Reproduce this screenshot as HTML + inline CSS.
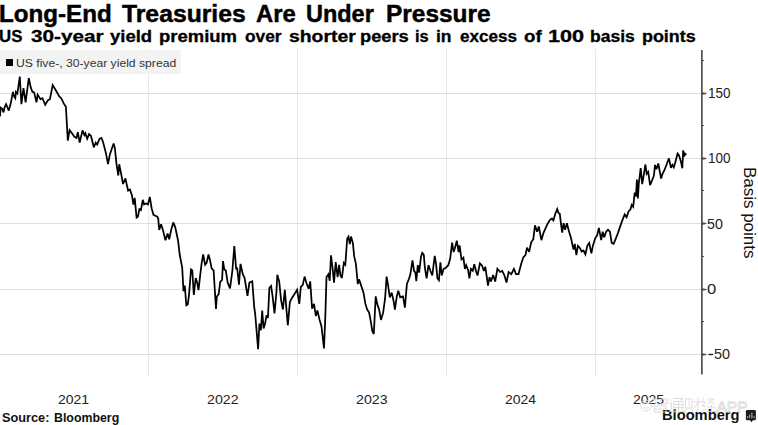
<!DOCTYPE html>
<html><head><meta charset="utf-8">
<style>
html,body{margin:0;padding:0;background:#fff;width:758px;height:425px;overflow:hidden;position:relative;font-family:"Liberation Sans",sans-serif;}
.w{position:absolute;transform-origin:0 0;white-space:nowrap;font-family:"Liberation Sans",sans-serif;}
#legend{position:absolute;left:0;top:50px;width:181px;height:24px;background:#f3f3f3;}
#legend .sq{position:absolute;left:5.8px;top:9px;width:6.8px;height:7px;background:#000;}
svg{position:absolute;left:0;top:0;}
</style></head><body>
<svg width="758" height="425" viewBox="0 0 758 425">
<g stroke="#e8e8e8" stroke-width="1" fill="none"><line x1="148.5" y1="49" x2="148.5" y2="375.5"/><line x1="297.5" y1="49" x2="297.5" y2="375.5"/><line x1="446.5" y1="49" x2="446.5" y2="375.5"/><line x1="595.5" y1="49" x2="595.5" y2="375.5"/></g><g stroke="#dedede" stroke-width="1" fill="none"><line x1="0" y1="93.5" x2="701" y2="93.5"/><line x1="0" y1="158.5" x2="701" y2="158.5"/><line x1="0" y1="223.5" x2="701" y2="223.5"/><line x1="0" y1="289.5" x2="701" y2="289.5"/><line x1="0" y1="354.5" x2="701" y2="354.5"/></g>
<g fill="#505050"><rect x="701" y="50" width="1.7" height="324.5"/><path d="M701 92.0 L706.5 93.1 L706.5 93.9 L701 95.0z"/><path d="M701 157.0 L706.5 158.1 L706.5 158.9 L701 160.0z"/><path d="M701 222.0 L706.5 223.1 L706.5 223.9 L701 225.0z"/><path d="M701 288.0 L706.5 289.1 L706.5 289.9 L701 291.0z"/><path d="M701 353.0 L706.5 354.1 L706.5 354.9 L701 356.0z"/><rect x="701" y="60.0" width="3" height="1"/><rect x="701" y="125.0" width="3" height="1"/><rect x="701" y="190.0" width="3" height="1"/><rect x="701" y="256.0" width="3" height="1"/><rect x="701" y="321.0" width="3" height="1"/></g>
<rect x="708.4" y="353.8" width="4.8" height="1.4" fill="#222"/>
<polyline points="0,116.5 0.6,107.6 2.1,108.8 3.5,112.4 4.5,107.6 6.1,104.1 7.1,106.5 8.8,110.6 10.6,104.1 12.9,91.8 14.1,96.5 15.3,98.2 15.9,91.8 17.4,93.5 19.8,76.5 21.4,104.1 23.5,88.2 25.6,102.4 27.3,89.4 28.8,78.2 30.8,87.6 32.4,91.8 34.1,92.4 36.5,102.4 37.6,94.7 40.5,99.2 42.4,98.2 45.2,104.8 48,100.1 49.9,99.2 52.7,85.1 55.5,89.8 59.3,96.4 61.2,98.2 64,103.9 65.9,106.7 67.8,140.6 69.6,130.2 72.5,134 74.4,136.8 76.5,137.9 77.8,132.2 79.7,142.6 82.5,130.4 84.4,135.1 85.4,133.2 87.2,138.8 89.1,134.1 91,136 93.8,147.3 95.7,142.6 97.2,144.5 99.5,138.8 101.4,137.9 102.9,141.6 106.1,153.9 108,164.2 109.8,154.8 113.6,143.5 114.9,148.2 116.4,163.3 118.3,175.5 119.2,164.2 121.1,173.6 123,184 125.4,178.4 128.1,190.6 130,189.6 131.9,195.1 133.4,204.5 134.7,197.9 136.6,217.6 137.9,216.7 139.4,209.2 140.9,210.1 142.8,199.8 144.1,204.5 146,203.5 147.9,204.5 149.8,196.9 151.6,208.2 153.5,214.8 155.4,215.8 157.3,216.7 158.2,218.6 159.2,229.9 161.1,224.2 162.9,229.9 165.4,240.2 167.6,233.6 169.2,239.3 171.4,228.9 173.3,222.4 175.2,227.1 178,240.2 179.7,254.5 182.2,267.6 183.5,291.2 184.8,285.5 186.3,305.3 187.8,304.4 189.1,294 191,269.5 192.3,270.5 193.8,295 195.7,278 197.2,282.7 198.5,290.2 200.4,273.3 201.7,262.9 203.2,254.5 205.1,264.8 206.6,262.9 208.5,254.5 209.8,259.2 211.7,268.6 213.6,270.5 216,309 216.8,296.8 218.7,294 220.2,281.8 222.1,279.9 223,261.1 224.3,269.5 225.8,270.5 227.7,282.7 230,288.4 232.4,270.5 234.3,246 236.2,269.5 237.1,267.6 239,284.6 240.5,263.9 242.8,274.2 244.6,278 247.5,295.9 249.4,282.7 252.3,281.3 254.1,305.8 255.3,315.2 258.1,349.1 259.4,323.6 260.9,330.2 262.2,310.5 263.6,328.4 265.1,323.6 266.6,315.2 267.9,318 269.4,287.9 271.1,286 272.6,296.4 274.5,313.3 276.4,292.6 277.3,274.7 279.2,281.3 281.1,300.1 282.9,309.5 284.8,289.8 286.7,312.4 287.8,325.3 289.9,302 291.8,298.2 294.2,294.5 297.1,289.8 299.3,303.9 300.8,286.9 302.7,285.1 304.6,276.6 306.5,283.2 308.7,288.8 310.2,281.3 312.1,308.6 314,303.9 315.9,316.1 317.4,310.5 319.6,319.9 321.5,326.5 324,348.5 325.3,317.1 326.5,277.1 328.4,274.2 329.7,280.8 331,255.4 332.5,267.6 334,282.7 335.7,262 337.6,277.1 339.1,264.8 340.4,275.2 341.9,278 343.8,262.9 345.3,264.8 347.2,238.5 348.5,236.6 349.8,244.1 351,236.6 352.9,243.2 354.2,256.4 355.9,263.9 357.8,284.1 359.1,279.4 361.6,286.9 363.5,292.6 365.4,303.9 367.2,309.5 369.1,312.4 371,322.7 372.3,331.2 373.8,334 375.7,296.4 377.2,303.9 379.1,309.5 381,319.9 383.2,312.4 385.1,298.2 386.6,276.6 387.9,284.1 389.8,297.3 391.7,292.6 393.6,301.1 394.9,309.5 396.8,296.4 398.3,290.7 400.2,297.3 403,296.4 404.9,307.6 406.9,284 408.8,279.3 410.3,274.6 412.5,260.5 414,270.8 415.4,272.7 416.3,281.2 417.8,265.2 419.1,272.7 421,256.7 422.3,252.9 423.8,254.8 424.8,267.1 426.6,278.4 428.5,265.2 430.4,270.8 432.3,275.5 434.7,255.8 436.1,264.2 437.4,278.4 438.9,280.2 440.4,262.4 441.7,275.5 443.6,268.9 445.5,268 448.3,265.2 450.2,258.6 452.1,242.6 453.6,252 454.9,248.2 456.8,240.7 458.6,252 459.6,245.4 461.5,259.5 463.4,257.6 464.9,268.9 466.2,265.2 468.1,269.9 469.4,278.4 470.9,268.9 472.8,270.8 474.3,264.2 476.2,271.8 477.5,275.5 479.9,263.3 482.1,265.6 483.8,270.9 485.3,266.7 488,285.7 489.5,277.2 491,281.5 493.1,275.1 495.2,281.5 497.4,268.8 500.1,272 502.2,270.9 504.3,275.1 506.5,282.5 508.6,272 511.3,274.1 513.9,268.8 516,274.1 518.5,274.1 521.3,263.5 523.4,257.1 525.5,255 527,247.6 529.1,251.9 531.2,242.3 533.3,239.2 535,225.4 537.1,231.7 538.8,226.5 541.4,240.2 543.5,232.8 547.3,224.3 549.8,220.1 551.9,218.5 553.4,220.4 555.3,213.8 557.2,209.1 558.5,212.9 559.8,213.8 560.9,223.2 562.2,232.6 563.6,223.2 565.1,229.8 566.9,223.2 568.8,230.8 571.1,238.3 572.6,245.8 573.5,249.6 574.8,243.9 576.4,255.2 577.9,245.8 579.7,247.7 581.6,251.5 583.5,250.5 585.4,254.3 587.3,245.8 589.2,243 591.4,253.4 592.9,245.8 595.2,238.3 597.1,235.5 598.9,227.9 601.2,240.2 602.7,231.7 604.2,237.4 606.1,231.7 608,229.8 609.9,231.7 611.7,243 613.6,243.9 615.9,238.3 618.1,232.6 620.6,225.1 622.8,219.1 624.7,214.4 626.6,217.2 628.5,211.5 630.4,209.6 631.7,204.9 633.2,206.8 634.7,192.7 636,196.5 636.9,179.5 637.9,198.4 638.8,183.3 640.7,168.2 642.2,184.2 643.5,176.7 645.4,164.5 646.7,173.9 648.2,172 650.1,185.2 652,180.5 653.9,175.8 655,164.9 656.4,169.2 658.3,163.5 659.7,171.1 661.1,178.6 662.5,173.9 664.4,170.1 666.8,164 668.9,158.4 671,167.8 672.4,164.9 673.8,167.3 675.2,162.6 677.6,153.6 679,155.5 680.9,161.6 682.3,168.2 683.2,150.4 684.2,156.5 685.1,153.6 686.5,154.6" fill="none" stroke="#000" stroke-width="1.75" stroke-linejoin="miter" stroke-miterlimit="3"/>
<text transform="translate(744,166.9) rotate(90) scale(1.062,1)" font-family="Liberation Sans" font-size="16" fill="#111">Basis points</text>
<rect x="745.9" y="410" width="10" height="10.3" rx="1.3" fill="#1a1a1a"/><path d="M750 420 L753 420 L751.5 422.2z" fill="#1a1a1a"/>
<g fill="#9a9a9a"><rect x="747" y="416" width="1.1" height="2.3"/><rect x="749" y="414.6" width="1.2" height="3.7"/><rect x="751.2" y="412.6" width="1.3" height="5.7"/><rect x="753.5" y="416" width="1.1" height="2.3"/></g>
</svg>
<div id="legend"><div class="sq"></div></div>
<div class="w" style="left:-0.55px;top:1.00px;transform:scaleX(1.0505);font-size:23px;font-weight:bold;-webkit-text-stroke:0.45px #000;color:#000">Long-End</div>
<div class="w" style="left:122.40px;top:1.00px;transform:scaleX(1.0754);font-size:23px;font-weight:bold;-webkit-text-stroke:0.45px #000;color:#000">Treasuries</div>
<div class="w" style="left:255.70px;top:1.00px;transform:scaleX(1.0342);font-size:23px;font-weight:bold;-webkit-text-stroke:0.45px #000;color:#000">Are</div>
<div class="w" style="left:306.18px;top:1.00px;transform:scaleX(1.0197);font-size:23px;font-weight:bold;-webkit-text-stroke:0.45px #000;color:#000">Under</div>
<div class="w" style="left:385.94px;top:1.00px;transform:scaleX(1.0619);font-size:23px;font-weight:bold;-webkit-text-stroke:0.45px #000;color:#000">Pressure</div>
<div class="w" style="left:-0.55px;top:27.60px;transform:scaleX(1.0524);font-size:16px;font-weight:bold;-webkit-text-stroke:0.3px #000;color:#000">US</div>
<div class="w" style="left:30.90px;top:27.60px;transform:scaleX(1.2929);font-size:16px;font-weight:bold;-webkit-text-stroke:0.3px #000;color:#000">30-year</div>
<div class="w" style="left:110.40px;top:27.60px;transform:scaleX(1.1556);font-size:16px;font-weight:bold;-webkit-text-stroke:0.3px #000;color:#000">yield</div>
<div class="w" style="left:159.15px;top:27.60px;transform:scaleX(1.1545);font-size:16px;font-weight:bold;-webkit-text-stroke:0.3px #000;color:#000">premium</div>
<div class="w" style="left:244.80px;top:27.60px;transform:scaleX(1.0824);font-size:16px;font-weight:bold;-webkit-text-stroke:0.3px #000;color:#000">over</div>
<div class="w" style="left:288.79px;top:27.60px;transform:scaleX(1.2111);font-size:16px;font-weight:bold;-webkit-text-stroke:0.3px #000;color:#000">shorter</div>
<div class="w" style="left:359.76px;top:27.60px;transform:scaleX(1.1415);font-size:16px;font-weight:bold;-webkit-text-stroke:0.3px #000;color:#000">peers</div>
<div class="w" style="left:414.98px;top:27.60px;transform:scaleX(1.0250);font-size:16px;font-weight:bold;-webkit-text-stroke:0.3px #000;color:#000">is</div>
<div class="w" style="left:436.31px;top:27.60px;transform:scaleX(1.0923);font-size:16px;font-weight:bold;-webkit-text-stroke:0.3px #000;color:#000">in</div>
<div class="w" style="left:460.00px;top:27.60px;transform:scaleX(1.0660);font-size:16px;font-weight:bold;-webkit-text-stroke:0.3px #000;color:#000">excess</div>
<div class="w" style="left:523.80px;top:27.60px;transform:scaleX(1.1667);font-size:16px;font-weight:bold;-webkit-text-stroke:0.3px #000;color:#000">of</div>
<div class="w" style="left:547.55px;top:27.60px;transform:scaleX(1.3520);font-size:16px;font-weight:bold;-webkit-text-stroke:0.3px #000;color:#000">100</div>
<div class="w" style="left:590.40px;top:27.60px;transform:scaleX(1.0950);font-size:16px;font-weight:bold;-webkit-text-stroke:0.3px #000;color:#000">basis</div>
<div class="w" style="left:641.78px;top:27.60px;transform:scaleX(1.1191);font-size:16px;font-weight:bold;-webkit-text-stroke:0.3px #000;color:#000">points</div>
<div class="w" style="left:15.94px;top:57.00px;transform:scaleX(1.0573);font-size:11.5px;color:#333">US five-, 30-year yield spread</div>
<div class="w" style="left:1.94px;top:411.20px;transform:scaleX(1.0605);font-size:12px;font-weight:bold;color:#111">Source:</div>
<div class="w" style="left:54.17px;top:411.20px;transform:scaleX(1.0290);font-size:12px;font-weight:bold;color:#111">Bloomberg</div>
<div class="w" style="left:57.86px;top:392.00px;transform:scaleX(1.0357);font-size:13.5px;color:#222">2021</div>
<div class="w" style="left:206.85px;top:392.00px;transform:scaleX(1.0500);font-size:13.5px;color:#222">2022</div>
<div class="w" style="left:355.55px;top:392.00px;transform:scaleX(1.0500);font-size:13.5px;color:#222">2023</div>
<div class="w" style="left:504.57px;top:392.00px;transform:scaleX(1.0345);font-size:13.5px;color:#222">2024</div>
<div class="w" style="left:632.86px;top:392.00px;transform:scaleX(1.0357);font-size:13.5px;color:#222">2025</div>
<div class="w" style="left:661.95px;top:407.30px;transform:scaleX(1.0486);font-size:14px;font-weight:bold;color:#111">Bloomberg</div>
<div class="w" style="left:707.84px;top:84.60px;transform:scaleX(0.9636);font-size:14px;color:#222">150</div>
<div class="w" style="left:707.84px;top:149.90px;transform:scaleX(0.9636);font-size:14px;color:#222">100</div>
<div class="w" style="left:707.19px;top:215.80px;transform:scaleX(1.0143);font-size:14px;color:#222">50</div>
<div class="w" style="left:706.72px;top:281.20px;transform:scaleX(1.1833);font-size:14px;color:#222">0</div>
<div class="w" style="left:713.97px;top:346.20px;transform:scaleX(1.0286);font-size:14px;color:#222">50</div>
<svg width="758" height="425" viewBox="0 0 758 425" style="position:absolute;left:0;top:0">
<g fill="none" stroke="#d9d9d9" stroke-width="0.9" stroke-linejoin="round" stroke-linecap="round">
<circle cx="646" cy="405.5" r="5.5"/><path d="M643 403.5 q3 -2 6 0 M643.5 407.5 q2.5 2 5 0"/>
<path d="M653 399.5 h6 M655 398 v6 l-2.5 2.5 M656 402 l3 2.5 M661 399 h6 v5 h-6z M655 406 h11 v6 h-11z M655 409 h11"/>
<path d="M670 399 l1.5 1.5 M669 403 h2.5 v6 l-2 2 M670 411.5 q6 1 14.5 0 M674 398.5 h9 l-3 2 M674 401.5 h9 v9 M674 401.5 v9 M674 404.5 h9 M674 407.5 h9 M678.5 401.5 v9"/>
<path d="M686 399 h6 v9 h-6z M689 401 v5 M687 408 l-1.5 3.5 M691 408 l2 3 M693.5 402 h7 M698 398 v13 l-1.5 -1 M698 403 l-4 5"/>
<path d="M703.5 398 l-2 4 h4 l-3.5 4 h4 M701.5 411 l5 -2 M708 399 h6 l-6 5 M709 400 l5 4 M708 407 h7 M711.5 405 v6 M707 411.5 h9"/>
</g>
<text x="716.5" y="411.5" font-family="Liberation Sans" font-size="15.5" fill="none" stroke="#d9d9d9" stroke-width="0.8" textLength="31" lengthAdjust="spacingAndGlyphs">APP</text>
</svg>
</body></html>
